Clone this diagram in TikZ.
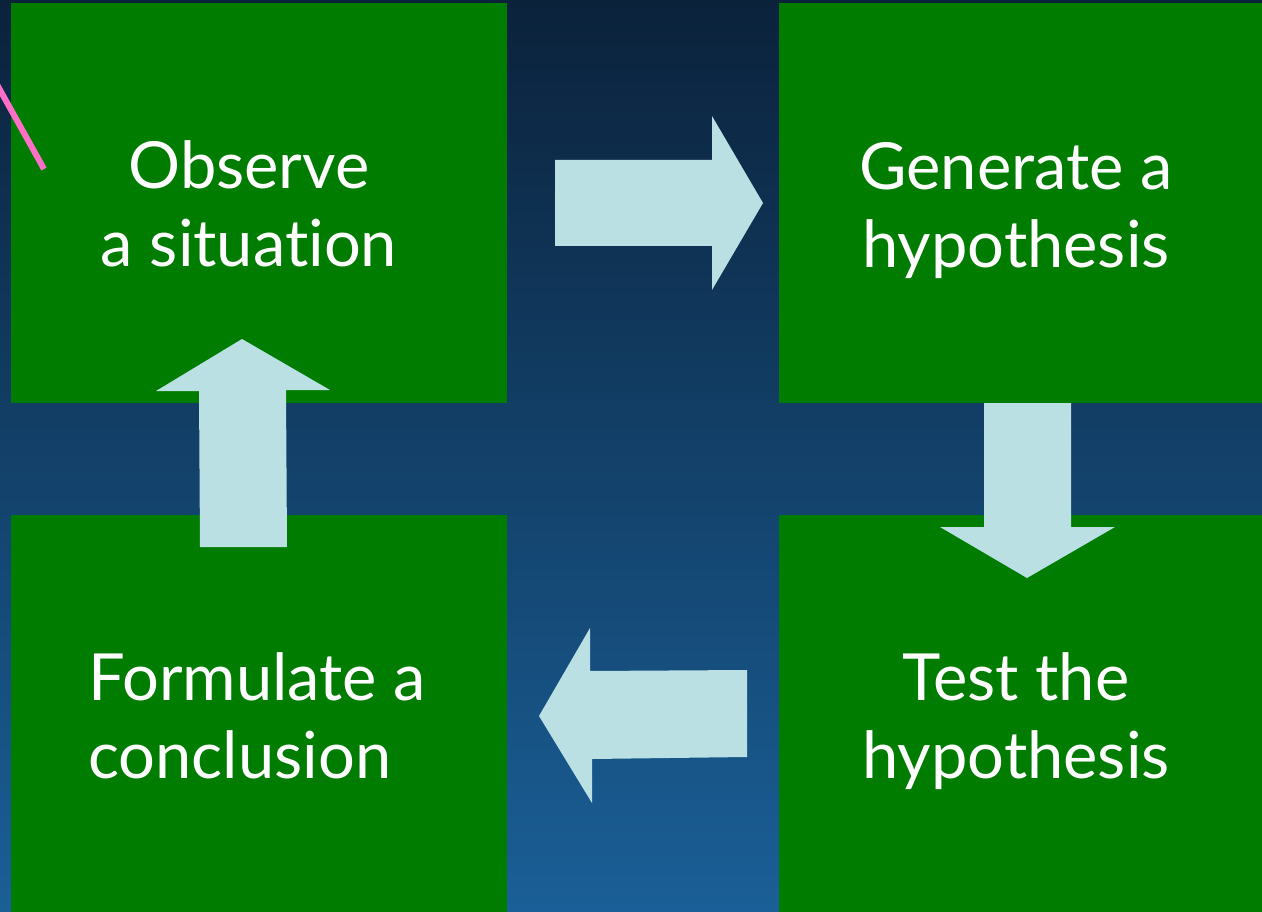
\documentclass[tikz,border=0pt]{standalone}
\usepackage{fontspec}
\setmainfont[Ligatures={NoCommon,NoRare}]{Lato}
\definecolor{bgtop}{HTML}{0B223B}
\definecolor{bgbot}{HTML}{1A5F97}
\definecolor{boxgreen}{HTML}{007C00}
\definecolor{arrowblue}{HTML}{BBE0E3}
\definecolor{pinkline}{HTML}{FF6EC7}
\begin{document}
\begin{tikzpicture}[x=1pt,y=-1pt,
  greenbox/.style={fill=boxgreen, draw=none},
  blockarrow/.style={fill=arrowblue, draw=none},
  lbl/.style={text=white, inner sep=0pt, font=\fontsize{65}{78}\selectfont}]
\useasboundingbox (0,0) rectangle (1262,912);
\shade[top color=bgtop, bottom color=bgbot] (0,0) rectangle (1262,912);
% boxes
\path[greenbox] (11,3) rectangle (507,403);
\path[greenbox] (779,3) rectangle (1262,403);
\path[greenbox] (11,515) rectangle (507,912);
\path[greenbox] (779,515) rectangle (1262,912);
% pink line
\draw[pinkline, line width=6pt] (-10,72) -- (44,169);
% arrows
\path[blockarrow] (555,160) -- (712,160) -- (712,116) -- (763,203) -- (712,290) -- (712,246) -- (555,246) -- cycle;
\path[blockarrow] (984,403) -- (1071,403) -- (1071,527) -- (1115,527) -- (1027,578) -- (940,527) -- (984,527) -- cycle;
\path[blockarrow] (747,670) -- (747,757) -- (592,759) -- (592,803) -- (539,716) -- (590,628) -- (590,671) -- cycle;
\path[blockarrow] (200,547) -- (199,391) -- (156,391) -- (242,339) -- (330,390) -- (286,390) -- (287,547) -- cycle;
% labels
\node[lbl, align=center] (obs) at (249,204) {Observe\\a situation};
\node[lbl, align=center] (gen) at (1016,211) {Generate a\\hypothesis};
\node[lbl, align=center] (tst) at (1016,721) {Test the\\hypothesis};
\node[lbl, align=left, anchor=west] (frm) at (88,716) {Formulate a\\conclusion};
\end{tikzpicture}
\end{document}
